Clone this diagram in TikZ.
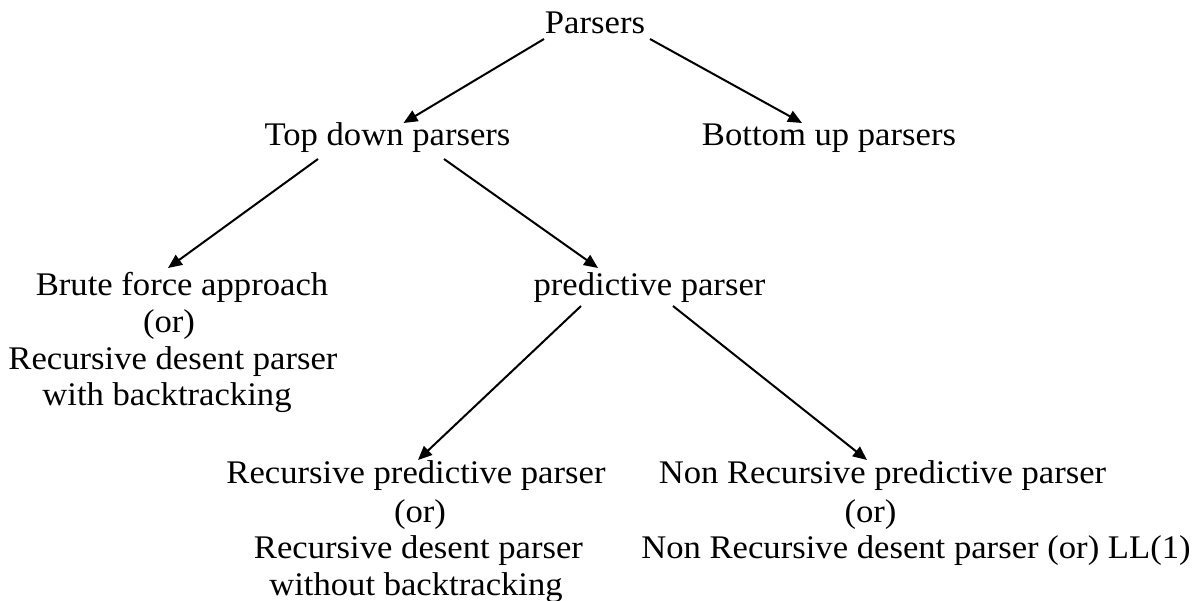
\documentclass[tikz,border=0pt]{standalone}
\usepackage{fontspec}
\setmainfont{Liberation Serif}[FakeStretch=1.05]
\usetikzlibrary{arrows.meta,calc}
\tikzset{
  lbl/.style={anchor=base,inner sep=0pt,font=\fontsize{33}{37}\selectfont},
  arr/.style={line width=2pt,-{Triangle[length=14pt,width=12pt]}}
}
\begin{document}
\begin{tikzpicture}[x=1pt,y=-1pt]
\useasboundingbox (0,0) rectangle (1196,600);
\node[lbl] (parsers) at (595,33) {Parsers};
\node[lbl] (td) at (387.5,145) {Top down parsers};
\node[lbl] (bu) at (829,145) {Bottom up parsers};
\node[lbl] (br1) at (182,295) {Brute force approach};
\node[lbl] (br2) at (169,332) {(or)};
\node[lbl] (br3) at (173,369) {Recursive desent parser};
\node[lbl] (br4) at (167,405) {with backtracking};
\node[lbl] (pred) at (649.5,295) {predictive parser};
\node[lbl] (rp1) at (416,483) {Recursive predictive parser};
\node[lbl] (rp2) at (420,522) {(or)};
\node[lbl] (rp3) at (418.5,558) {Recursive desent parser};
\node[lbl] (rp4) at (416,595) {without backtracking};
\node[lbl] (nr1) at (882.5,483) {Non Recursive predictive parser};
\node[lbl] (nr2) at (870.5,522) {(or)};
\node[lbl] (nr3) at (916,558) {Non Recursive desent parser (or) LL(1)};
\draw[arr] ($(parsers.base)+(-51,6)$) -- ($(td.base)+(16,-22)$);
\draw[arr] ($(parsers.base)+(55,6)$) -- ($(bu.base)+(-27,-22)$);
\draw[arr] ($(td.base)+(-69.5,14)$) -- ($(br1.base)+(-14,-27)$);
\draw[arr] ($(td.base)+(56.5,14)$) -- ($(pred.base)+(-51.5,-27)$);
\draw[arr] ($(pred.base)+(-68.5,11)$) -- ($(rp1.base)+(2,-23)$);
\draw[arr] ($(pred.base)+(23.5,11)$) -- ($(nr1.base)+(-15.5,-23)$);
\end{tikzpicture}
\end{document}
